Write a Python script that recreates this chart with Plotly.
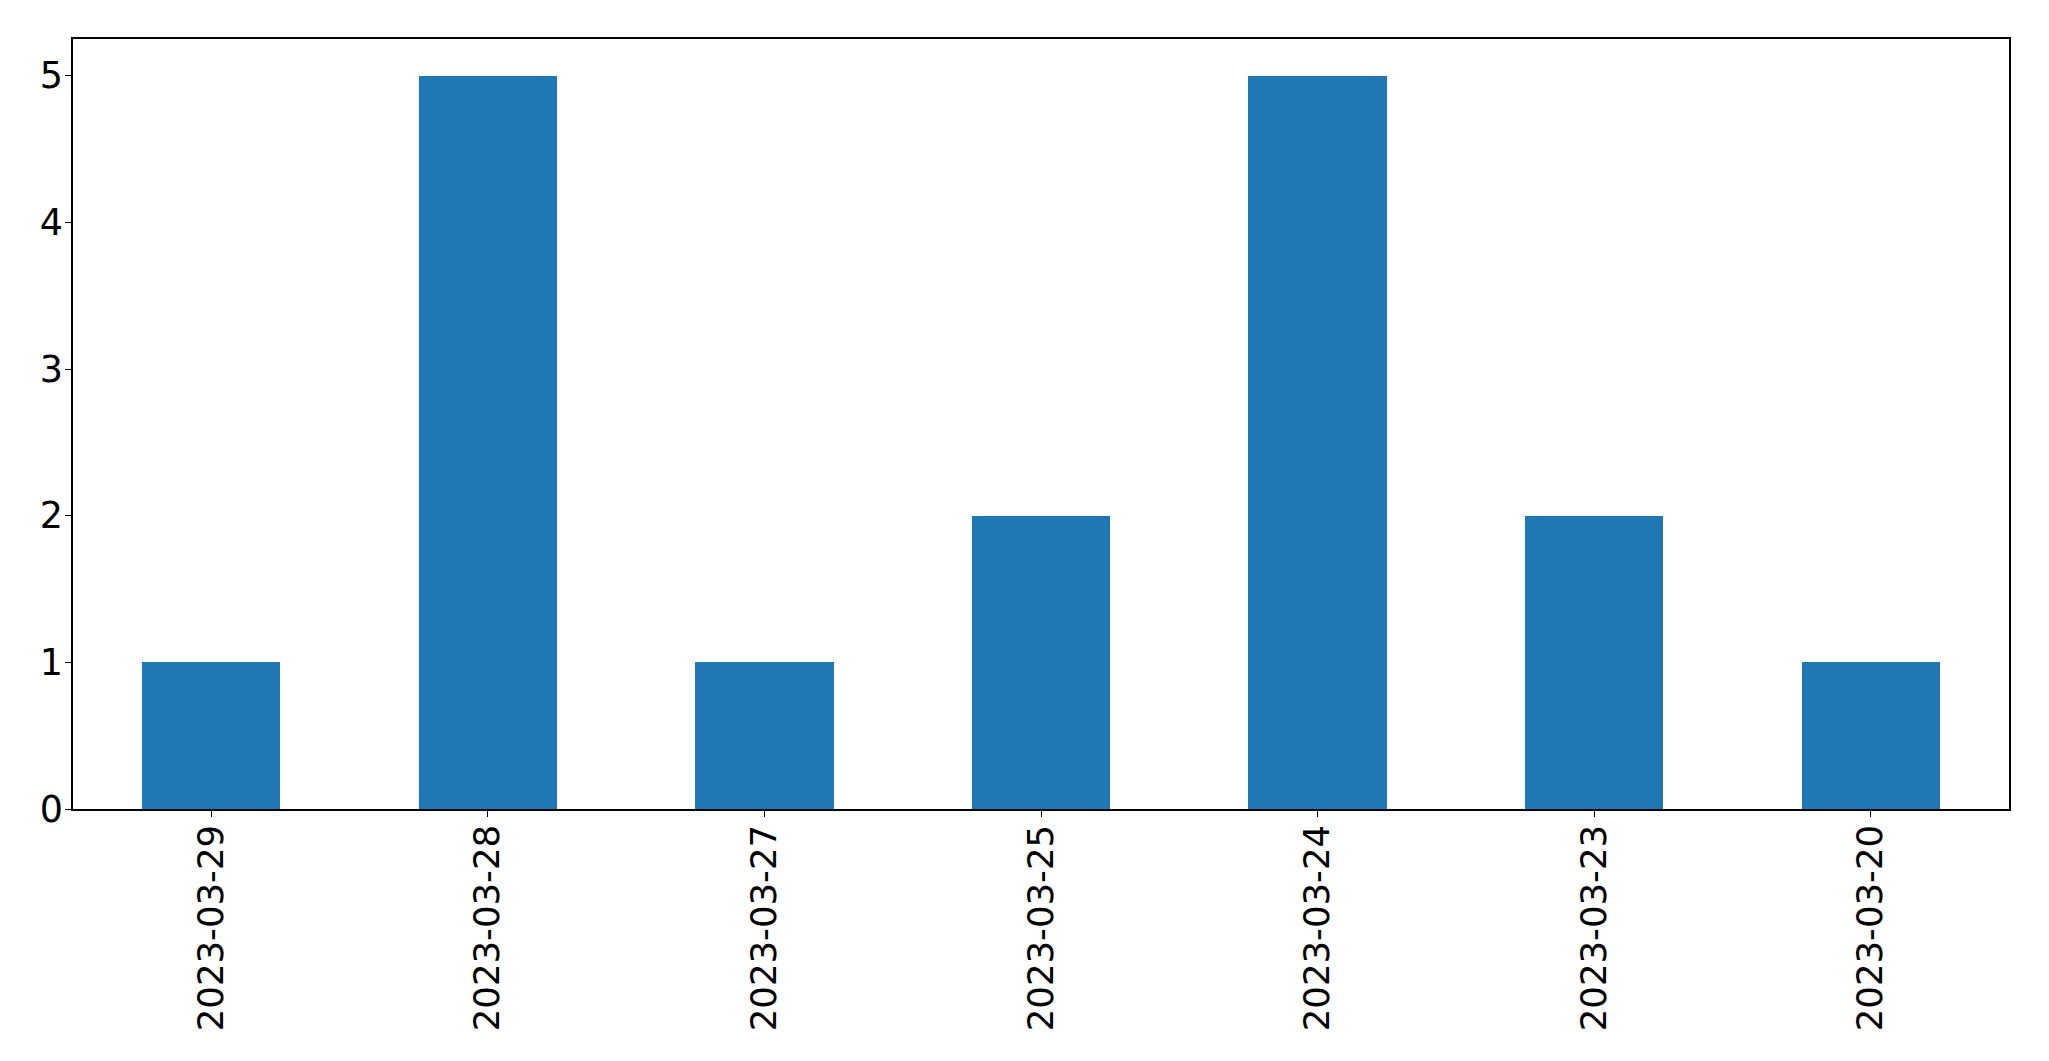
import plotly.graph_objects as go

dates = ["2023-03-29", "2023-03-28", "2023-03-27", "2023-03-25", "2023-03-24", "2023-03-23", "2023-03-20"]
counts = [1, 5, 1, 2, 5, 2, 1]

fig = go.Figure()
fig.add_trace(go.Bar(x=dates, y=counts, width=0.5, marker=dict(color="#1f77b4", line=dict(width=0))))

xfont = dict(family="DejaVu Sans", size=35.5, color="black")
yfont = dict(family="DejaVu Sans", size=36.5, color="black")
fig.update_layout(
    width=2041, height=1053,
    margin=dict(l=65, r=40, t=31, b=252, autoexpand=False),
    plot_bgcolor="white", paper_bgcolor="white",
    showlegend=False, font=xfont, bargap=0,
)
fig.update_xaxes(
    type="category", range=[-0.5, 6.5], tickangle=-90,
    showline=True, linecolor="black", linewidth=1.5, mirror=True,
    ticks="outside", ticklen=6, tickwidth=1.3, tickcolor="black",
    showgrid=False, zeroline=False, tickfont=xfont, ticklabelstandoff=-6,
)
fig.update_yaxes(
    range=[0, 5.25], tickvals=[0, 1, 2, 3, 4, 5],
    showline=True, linecolor="black", linewidth=1.5, mirror=True,
    ticks="outside", ticklen=6, tickwidth=1.3, tickcolor="black",
    showgrid=False, zeroline=False, tickfont=yfont, ticklabelstandoff=-5,
)
fig.write_html("out.html")
